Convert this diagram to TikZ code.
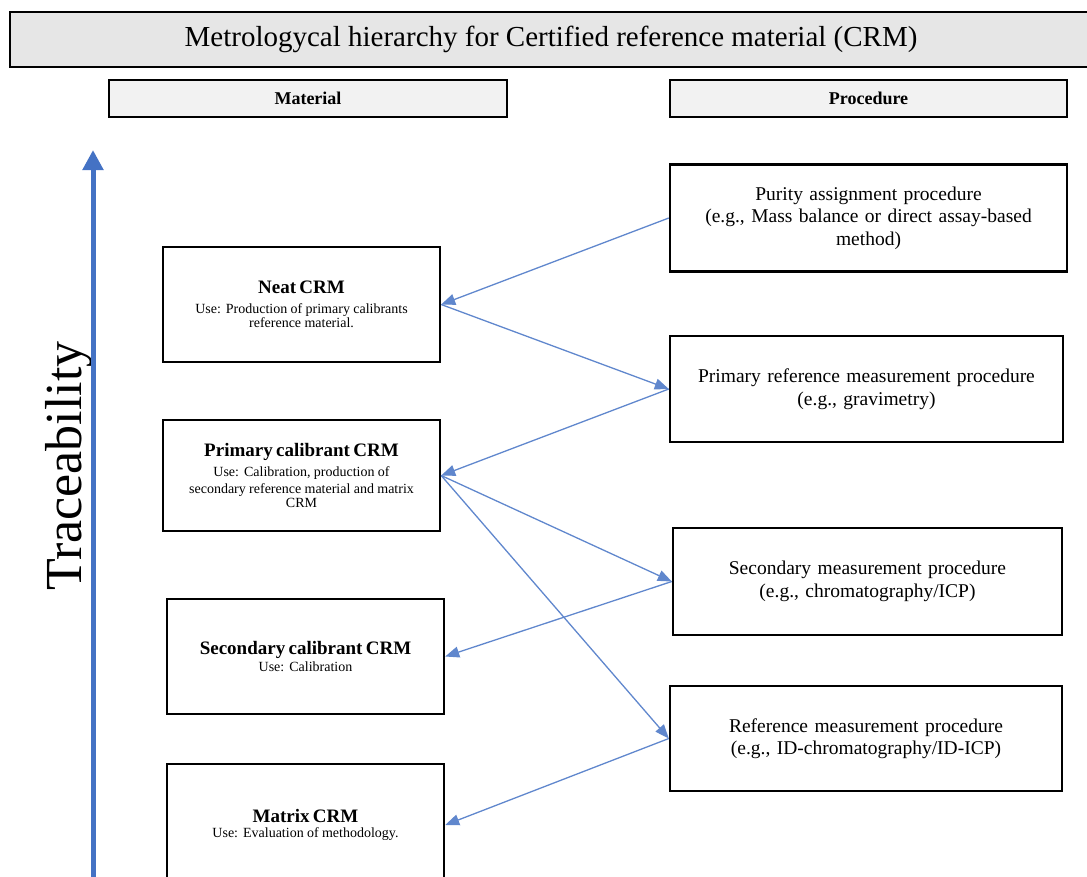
\documentclass[tikz,border=0pt]{standalone}
\usepackage{fontspec}
\setmainfont{Liberation Serif}
\usepackage{xcolor}
\usetikzlibrary{arrows.meta}

\definecolor{crmblue}{HTML}{4472C4}
\definecolor{headgray}{HTML}{E6E6E6}
\definecolor{colgray}{HTML}{F2F2F2}

\newcommand{\crmtitle}[1]{{\fontsize{19}{21}\selectfont\bfseries #1\par}\vspace{3pt}\fontsize{14}{17}\selectfont}

\begin{document}
\begin{tikzpicture}[x=1pt, y=-1pt,
    box/.style={draw=black, line width=2.4pt, align=center, inner sep=4pt},
    colbox/.style={box, fill=colgray, minimum height=37pt, font=\fontsize{18}{20}\selectfont\bfseries},
    matbox/.style={box, minimum width=277pt, text width=266pt},
    procbox/.style={box, text width=380pt, font=\fontsize{19.5}{22.5}\selectfont},
    link/.style={draw=crmblue!85, line width=1.3pt, -{Triangle[length=14pt,width=11pt]}},
    trace/.style={draw=crmblue, line width=5pt, -{Triangle[length=20pt,width=20pt]}}]
    \useasboundingbox (0,0) rectangle (1087,876);

    % heading and column labels
    \node (title) at (551,39.5) [box, line width=2.8pt, fill=headgray,
        minimum width=1082pt, minimum height=55pt, font=\fontsize{29}{32}\selectfont]
        {Metrologycal hierarchy for Certified reference material (CRM)};
    \node (material) at (308,98.5) [colbox, minimum width=398pt] {Material};
    \node (procedure) at (868.5,98.5) [colbox, minimum width=397pt] {Procedure};

    % material column
    \node (neat) at (301.5,304.5) [matbox, minimum height=115pt] {%
        \crmtitle{Neat CRM}
        Use: Production of primary calibrants\\ reference material.};
    \node (primcal) at (301.5,475.5) [matbox, minimum height=111pt] {%
        \crmtitle{Primary calibrant CRM}
        Use: Calibration, production of\\ secondary reference material and matrix\\ CRM};
    \node (seccal) at (305.5,656.5) [matbox, minimum height=115pt] {%
        \crmtitle{Secondary calibrant CRM}
        Use: Calibration};
    \node (matrix) at (305.5,825) [matbox, minimum height=122pt] {%
        \crmtitle{Matrix CRM}
        Use: Evaluation of methodology.};

    % procedure column
    \node (purity) at (868.5,218) [procbox, minimum width=397pt, minimum height=107pt]
        {Purity assignment procedure\\ (e.g., Mass balance or direct assay-based\\ method)};
    \node (primref) at (866.5,389) [procbox, minimum width=393pt, minimum height=106pt]
        {Primary reference measurement procedure\\ (e.g., gravimetry)};
    \node (secmeas) at (867.5,581.5) [procbox, minimum width=389pt, minimum height=107pt]
        {Secondary measurement procedure\\ (e.g., chromatography/ICP)};
    \node (refmeas) at (866,738.5) [procbox, minimum width=392pt, minimum height=105pt]
        {Reference measurement procedure\\ (e.g., ID-chromatography/ID-ICP)};

    % traceability axis
    \node (tlabel) at (81,466) [rotate=90, anchor=base, font=\fontsize{52}{52}\selectfont] {Traceability};
    \coordinate (tbot) at (93,880);
    \coordinate (ttop) at (93,150);
    \draw[trace] (tbot) -- (ttop);

    % links between the columns
    \foreach \src/\dst in {purity/neat, primref/primcal, secmeas/seccal, refmeas/matrix}
        \draw[link] (\src.west) -- (\dst.east);
    \foreach \src/\dst in {neat/primref, primcal/secmeas, primcal/refmeas}
        \draw[link] (\src.east) -- (\dst.west);
\end{tikzpicture}
\end{document}
